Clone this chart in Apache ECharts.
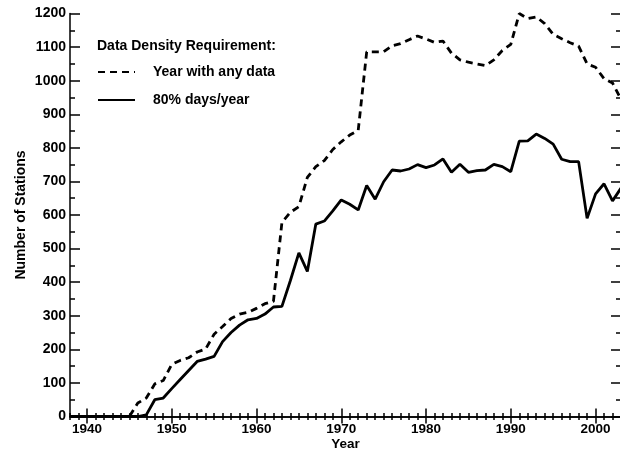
<!DOCTYPE html>
<html>
<head>
<meta charset="utf-8">
<script src="https://cdn.jsdelivr.net/npm/echarts@6/dist/echarts.min.js"></script>
<style>
  html, body { margin: 0; padding: 0; background: #fff; }
  #chart { width: 620px; height: 451px; }
</style>
</head>
<body>
<div id="chart"></div>
<script>
// years 1938..2003
var years = [];
for (var y = 1938; y <= 2003; y++) years.push(y);

// stations reporting any data in the year
var anyData = [
  0, 0, 0, 0, 0, 0, 0, 0, 40, 55,          // 1938-1947
  97, 107, 155, 167, 175, 192, 201, 245, 268, 292,   // 1948-1957
  305, 310, 322, 336, 343, 578, 608, 625, 712, 744,  // 1958-1967
  762, 795, 818, 838, 852, 1086, 1086, 1086, 1104, 1110, // 1968-1977
  1122, 1133, 1124, 1114, 1118, 1082, 1062, 1055, 1050, 1045, // 1978-1987
  1062, 1090, 1108, 1200, 1185, 1190, 1170, 1138, 1125, 1113, // 1988-1997
  1103, 1050, 1040, 1006, 993, 945                    // 1998-2003
];

// stations with 80% days/year
var pct80 = [
  0, 0, 0, 0, 0, 0, 0, 0, 0, 5,            // 1938-1947
  50, 55, 83, 110, 137, 164, 171, 179, 223, 250,     // 1948-1957
  272, 288, 292, 305, 326, 328, 405, 487, 432, 573,  // 1958-1967
  582, 612, 645, 632, 615, 688, 647, 699, 734, 731,  // 1968-1977
  737, 750, 741, 749, 767, 727, 751, 727, 732, 734,  // 1978-1987
  751, 744, 729, 820, 821, 841, 828, 811, 766, 759,  // 1988-1997
  759, 590, 663, 693, 642, 680                       // 1998-2003
];

var majorYears = [1940, 1950, 1960, 1970, 1980, 1990, 2000];
var font = '"Liberation Sans", Arial, Helvetica, sans-serif';

function pairs(vals) {
  return years.map(function (yr, i) { return [yr, vals[i]]; });
}
function plain(v) { return String(v); }

var chart = echarts.init(document.getElementById('chart'));

var lineAxis = { show: true, lineStyle: { color: '#000', width: 1.5 } };
var noLine = { show: false };

function xAx(pos, ticks, len, opts) {
  return Object.assign({
    type: 'value', position: pos, min: 1938, max: 2003,
    axisLine: noLine,
    axisTick: { show: true, inside: true, length: len, customValues: ticks, lineStyle: { color: '#000', width: 1.5 } },
    axisLabel: { show: false },
    splitLine: { show: false }
  }, opts || {});
}
function yAx(pos, step, len, opts) {
  return Object.assign({
    type: 'value', position: pos, min: 0, max: 1200, interval: step,
    axisLine: noLine,
    axisTick: { show: true, inside: true, length: len, lineStyle: { color: '#000', width: 1.5 } },
    axisLabel: { show: false },
    splitLine: { show: false }
  }, opts || {});
}

chart.setOption({
  animation: false,
  backgroundColor: '#fff',
  textStyle: { fontFamily: font },
  grid: { left: 70, top: 13.5, width: 551, height: 403, containLabel: false, outerBoundsMode: 'none' },
  title: {
    text: 'Data Density Requirement:',
    left: 97, top: 39, padding: 0,
    textStyle: { fontFamily: font, fontSize: 14, fontWeight: 'bold', color: '#000' }
  },
  legend: {
    orient: 'vertical', left: 97, top: 65, padding: 0,
    itemWidth: 37, itemHeight: 14, itemGap: 14,
    itemStyle: { opacity: 0, color: 'rgba(0,0,0,0)', borderWidth: 0 },
    textStyle: { fontFamily: font, fontSize: 14, fontWeight: 'bold', color: '#000', padding: [0, 0, 0, 13] },
    data: ['Year with any data', '80% days/year']
  },
  xAxis: [
    xAx('bottom', majorYears, 8, {
      axisLine: lineAxis,
      axisLabel: { show: true, customValues: majorYears, formatter: plain, margin: 6, fontFamily: font, fontSize: 13.5, fontWeight: 'bold', color: '#000' },
      name: 'Year', nameLocation: 'middle', nameGap: 21, nameMoveOverlap: false,
      nameTextStyle: { fontFamily: font, fontSize: 13.5, fontWeight: 'bold', color: '#000' }
    }),
    xAx('bottom', years, 3.5),
    xAx('top', majorYears, 7, { axisLine: lineAxis }),
    xAx('top', years, 3.5)
  ],
  yAxis: [
    yAx('left', 100, 10, {
      axisLine: lineAxis,
      axisLabel: { show: true, formatter: plain, margin: 4, fontFamily: font, fontSize: 14, fontWeight: 'bold', color: '#000' },
      name: 'Number of Stations', nameLocation: 'middle', nameGap: 42, nameRotate: 90, nameMoveOverlap: false,
      nameTextStyle: { fontFamily: font, fontSize: 14, fontWeight: 'bold', color: '#000' }
    }),
    yAx('left', 50, 5),
    yAx('right', 100, 10, { axisLine: lineAxis }),
    yAx('right', 50, 5)
  ],
  series: [
    {
      name: 'Year with any data', type: 'line', data: pairs(anyData),
      xAxisIndex: 0, yAxisIndex: 0, symbol: 'none', clip: true,
      itemStyle: { color: '#000' },
      lineStyle: { color: '#000', width: 2.8, type: [7, 5] }
    },
    {
      name: '80% days/year', type: 'line', data: pairs(pct80),
      xAxisIndex: 0, yAxisIndex: 0, symbol: 'none', clip: true,
      itemStyle: { color: '#000' },
      lineStyle: { color: '#000', width: 2.8, type: 'solid' }
    }
  ]
});
</script>
</body>
</html>
